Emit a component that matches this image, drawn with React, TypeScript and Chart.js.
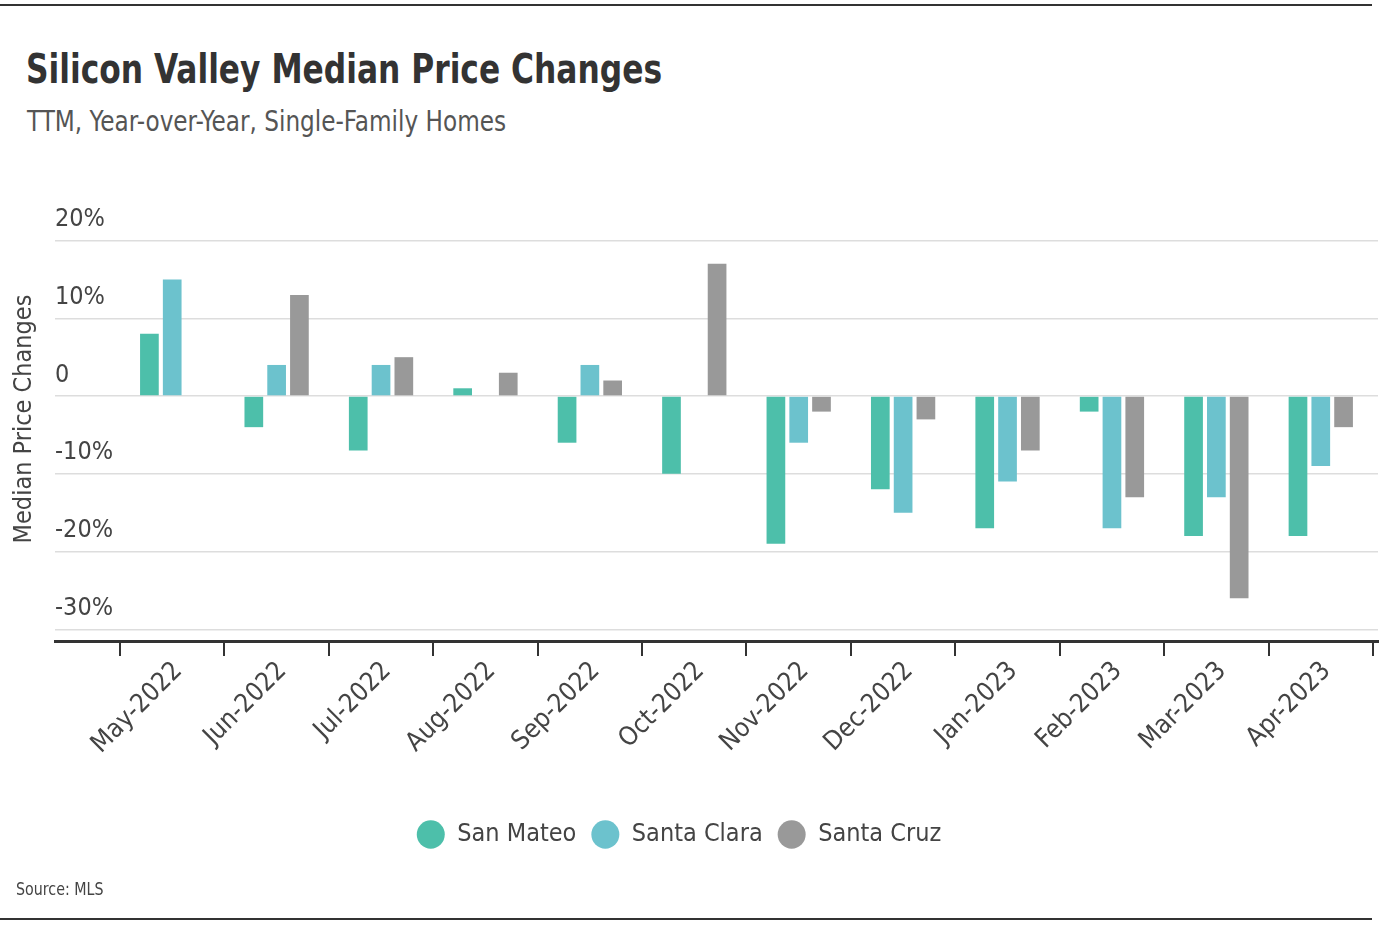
import React, { useEffect, useRef } from "react";
import { Chart, registerables } from "chart.js";

Chart.register(...registerables);

const categories = [
  "May-2022", "Jun-2022", "Jul-2022", "Aug-2022", "Sep-2022", "Oct-2022",
  "Nov-2022", "Dec-2022", "Jan-2023", "Feb-2023", "Mar-2023", "Apr-2023",
];
const sanMateo = [8, -4, -7, 1, -6, -10, -19, -12, -17, -2, -18, -18];
const santaClara = [15, 4, 4, null, 4, null, -6, -15, -11, -17, -13, -9];
const santaCruz = [null, 13, 5, 3, 2, 17, -2, -3, -7, -13, -26, -4];
const yTicks = [-30, -20, -10, 0, 10, 20];

const FONT = "'Liberation Sans Narrow', 'DejaVu Sans Condensed', 'Roboto Condensed', 'Noto Sans', sans-serif";
const TEXT = "#444444";

export default function App() {
  const ref = useRef<HTMLCanvasElement | null>(null);

  useEffect(() => {
    document.body.style.margin = "0";
    if (!ref.current) return;
    const toXY = (arr: (number | null)[]) => arr.map((v, i) => ({ x: i, y: v }));
    const chart = new Chart(ref.current, {
      type: "bar",
      data: {
        datasets: [
          { label: "San Mateo", data: toXY(sanMateo) as any, backgroundColor: "#4dbfaa", borderWidth: 0 },
          { label: "Santa Clara", data: toXY(santaClara) as any, backgroundColor: "#6cc2cd", borderWidth: 0 },
          { label: "Santa Cruz", data: toXY(santaCruz) as any, backgroundColor: "#999999", borderWidth: 0 },
        ],
      },
      options: {
        animation: false,
        responsive: false,
        devicePixelRatio: 1,
        layout: { padding: { top: 197, right: 4, bottom: 77, left: -20 } },
        datasets: { bar: { categoryPercentage: 0.655, barPercentage: 0.82 } },
        plugins: {
          tooltip: { enabled: false },
          legend: {
            position: "bottom",
            labels: {
              usePointStyle: true,
              pointStyle: "circle",
              pointStyleWidth: 28,
              boxHeight: 20,
              padding: 15,
              color: TEXT,
              font: { family: FONT, size: 25 },
            },
          },
        },
        scales: {
          x: {
            type: "linear",
            min: -1.1225,
            max: 11.548,
            offset: false,
            afterBuildTicks: (s: any) => {
              s.ticks = categories.map((_, i) => ({ value: i }));
            },
            afterFit: (s: any) => {
              s.height = 166;
            },
            ticks: {
              autoSkip: false,
              minRotation: 45,
              maxRotation: 45,
              padding: 0,
              labelOffset: 6,
              color: TEXT,
              font: { family: FONT, size: 26 },
              callback: (v: any) => categories[v] ?? "",
            },
            grid: {
              offset: true,
              drawOnChartArea: false,
              drawTicks: true,
              tickLength: 15,
              color: "#333333",
              lineWidth: 2,
            },
            border: { display: true, color: "#333333", width: 3 },
          },
          y: {
            type: "linear",
            min: -31.5,
            max: 25.6,
            afterBuildTicks: (s: any) => {
              s.ticks = yTicks.map((v) => ({ value: v }));
            },
            afterFit: (s: any) => {
              s.width = 75;
            },
            ticks: {
              mirror: true,
              padding: 0,
              labelOffset: -21,
              color: TEXT,
              font: { family: FONT, size: 25 },
              callback: (v: any) => (v === 0 ? "0" : `${v}%`),
            },
            grid: { color: "#dddddd", lineWidth: 1.5, drawTicks: false, tickLength: 0 },
            border: { display: false },
            title: {
              display: true,
              text: "Median Price Changes",
              color: TEXT,
              font: { family: FONT, size: 25 },
              padding: { top: 29, bottom: 0 },
            },
          },
        },
      },
    });
    return () => chart.destroy();
  }, []);

  return (
    <div style={{ position: "relative", width: 1382, height: 934, background: "#fff", overflow: "hidden" }}>
      <div style={{ position: "absolute", left: 0, top: 4, width: 1372, height: 2, background: "#333" }} />
      <div
        style={{
          position: "absolute", left: 26, top: 44, fontFamily: FONT, fontWeight: 700,
          fontSize: 40, color: "#333", whiteSpace: "nowrap", lineHeight: "50px",
          transform: "scaleX(0.87)", transformOrigin: "left top",
        }}
      >
        Silicon Valley Median Price Changes
      </div>
      <div
        style={{
          position: "absolute", left: 27, top: 104, fontFamily: FONT,
          fontSize: 28, color: "#555", whiteSpace: "nowrap", lineHeight: "36px",
          transform: "scaleX(0.92)", transformOrigin: "left top",
        }}
      >
        TTM, Year-over-Year, Single-Family Homes
      </div>
      <canvas ref={ref} width={1382} height={934} style={{ position: "absolute", left: 0, top: 0 }} />
      <div
        style={{
          position: "absolute", left: 16, top: 877, fontFamily: FONT,
          fontSize: 18, color: "#444", whiteSpace: "nowrap", lineHeight: "24px",
          transform: "scaleX(0.88)", transformOrigin: "left top",
        }}
      >
        Source: MLS
      </div>
      <div style={{ position: "absolute", left: 0, top: 918, width: 1372, height: 2, background: "#333" }} />
    </div>
  );
}
